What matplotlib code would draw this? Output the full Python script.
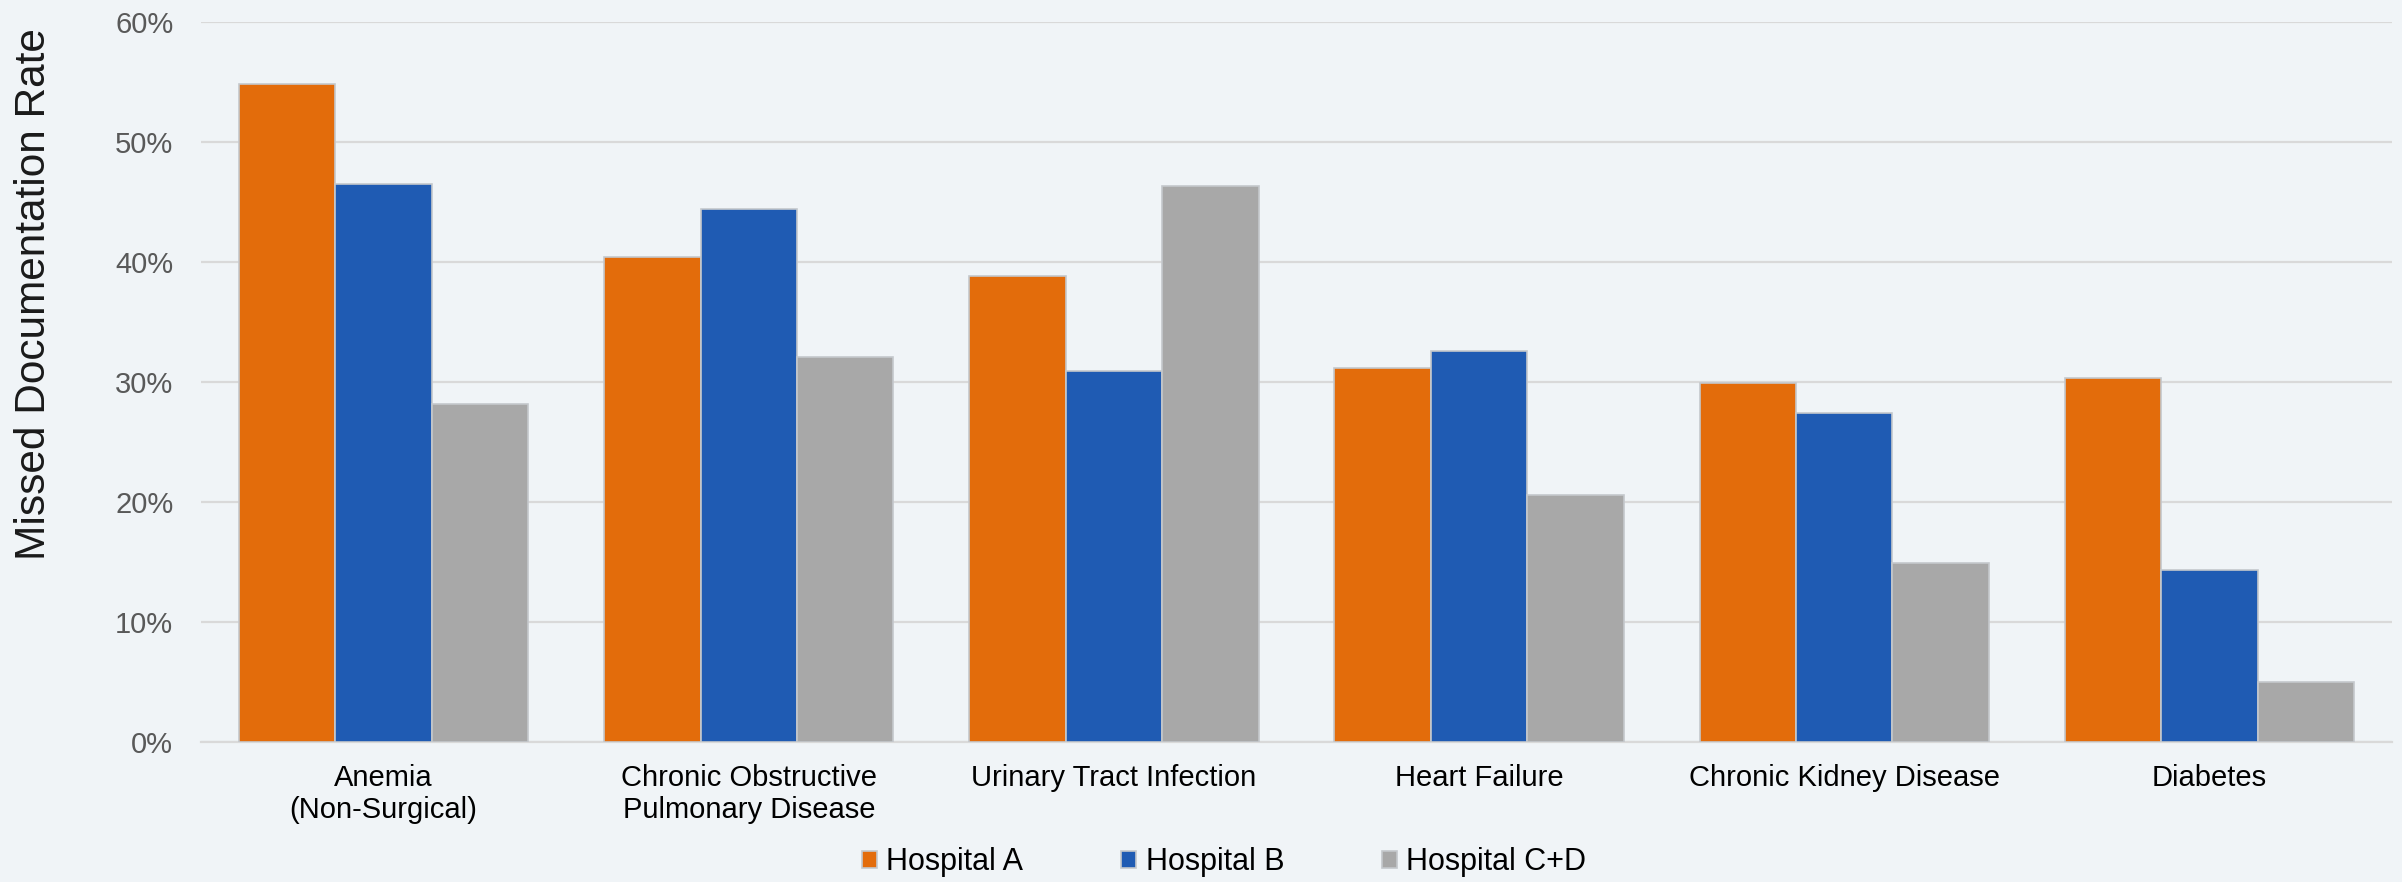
import numpy as np
import matplotlib.pyplot as plt
from matplotlib.ticker import PercentFormatter

plt.rcParams['font.family'] = ['Liberation Sans', 'DejaVu Sans']

categories = ['Anemia\n(Non-Surgical)', 'Chronic Obstructive\nPulmonary Disease',
              'Urinary Tract Infection', 'Heart Failure',
              'Chronic Kidney Disease', 'Diabetes']
hospital_a = [54.8, 40.4, 38.8, 31.2, 29.9, 30.3]
hospital_b = [46.5, 44.4, 30.9, 32.6, 27.4, 14.3]
hospital_cd = [28.2, 32.1, 46.3, 20.6, 14.9, 5.0]
series_names = ['Hospital A', 'Hospital B', 'Hospital C+D']
colors = ['#E36C0B', '#1F5BB3', '#A8A8A8']

bg = '#F0F4F7'
fig = plt.figure(figsize=(24.02, 8.82), dpi=100, facecolor=bg)
ax = fig.add_axes([0.0837, 0.1587, 0.9121, 0.8163], facecolor=bg)

x = np.arange(len(categories))
width = 0.264
for i, (vals, name, c) in enumerate(zip([hospital_a, hospital_b, hospital_cd], series_names, colors)):
    ax.bar(x + (i - 1) * width, vals, width, color=c, edgecolor='#C4C8CC',
           linewidth=1.2, label=name, zorder=3)

ax.set_xlim(-0.5, len(categories) - 0.5)
ax.set_ylim(0, 60)
ax.set_yticks(np.arange(0, 61, 10))
ax.yaxis.set_major_formatter(PercentFormatter(decimals=0))
ax.grid(axis='y', color='#D9D9D9', linewidth=1.6, zorder=0)
ax.set_axisbelow(True)
for s in ['top', 'right', 'left']:
    ax.spines[s].set_visible(False)
ax.spines['bottom'].set_color('#D9D9D9')
ax.spines['bottom'].set_linewidth(1.6)

ax.set_xticks(x)
ax.set_xticklabels(categories, fontsize=21, color='black', linespacing=1.15)
ax.tick_params(axis='x', length=0, pad=16)
ax.tick_params(axis='y', length=0, pad=20, labelsize=21, labelcolor='#595959')

fig.text(34 / 2402, 1 - 294 / 882, 'Missed Documentation Rate', rotation=90,
         ha='center', va='center', fontsize=30.5, color='#1A1A1A')

fig.legend(loc='center', bbox_to_anchor=(0.5096, 0.0225), ncol=3, frameon=False,
           fontsize=22, handlelength=0.5, handleheight=0.5, handletextpad=0.3,
           columnspacing=3.2)

fig.savefig('out.png', dpi=100, facecolor=bg)
